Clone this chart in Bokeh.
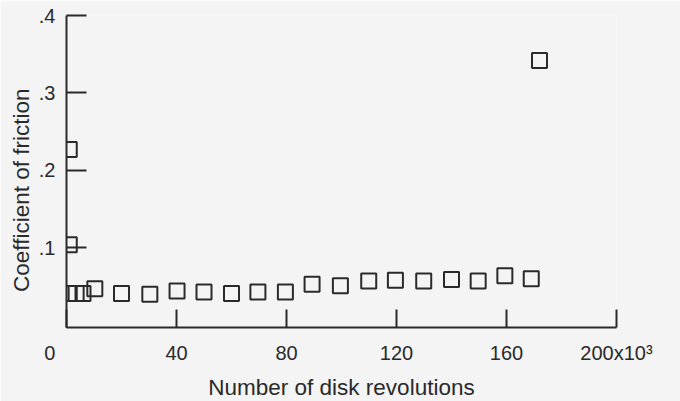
import re
from bokeh.plotting import figure
from bokeh.models import FixedTicker, Range1d
from bokeh.embed import file_html
from bokeh.resources import INLINE

# Data (x in thousands of disk revolutions)
revolutions_k = [1, 1, 1, 3.5, 6, 10.3, 20, 30.3, 40.2, 50, 60, 69.6, 79.6,
                 89.3, 99.6, 109.9, 119.6, 129.9, 140, 149.7, 159.4, 169, 172]
friction = [0.227, 0.104, 0.041, 0.041, 0.041, 0.047, 0.041, 0.040, 0.044,
            0.043, 0.041, 0.043, 0.043, 0.053, 0.051, 0.057, 0.058, 0.057,
            0.059, 0.057, 0.064, 0.060, 0.342]

x_ticks = [0, 40, 80, 120, 160, 200]
x_tick_labels = ["0", "40", "80", "120", "160", "200x10\u00b3"]
y_ticks = [0.1, 0.2, 0.3, 0.4]
y_tick_labels = [".1", ".2", ".3", ".4"]

BG = "#f4f4f4"
INK = "#2a2a2a"
FONT = "Liberation Sans"
FS = "\u2007"  # figure space, used to nudge a few labels off-centre like the original

p = figure(frame_width=550, frame_height=312,
           x_range=Range1d(0, 200), y_range=Range1d(-0.003, 0.4),
           output_backend="svg", toolbar_location=None,
           min_border_left=66, min_border_right=64,
           min_border_top=15, min_border_bottom=74,
           background_fill_color=BG, border_fill_color=BG,
           outline_line_color=None)
p.grid.visible = False

p.scatter(revolutions_k, friction, marker="square", size=15,
          fill_color=None, line_color=INK, line_width=2)

xa = p.xaxis[0]
xa.ticker = FixedTicker(ticks=x_ticks)
overrides = {t: l for t, l in zip(x_ticks, x_tick_labels)}
overrides[x_ticks[0]] = x_tick_labels[0] + FS * 3
xa.major_label_overrides = overrides
xa.axis_label = "Number of disk revolutions"

ya = p.yaxis[0]
ya.ticker = FixedTicker(ticks=y_ticks)
ya.major_label_overrides = {t: l for t, l in zip(y_ticks, y_tick_labels)}
ya.axis_label = "Coefficient of friction" + FS * 3

for ax, tick_len, standoff, lab_standoff in ((xa, 18, 14, 8), (ya, 20, 11, 2)):
    ax.major_tick_in = tick_len
    ax.major_tick_out = 0
    ax.minor_tick_in = 0
    ax.minor_tick_out = 0
    ax.axis_line_color = INK
    ax.axis_line_width = 2
    ax.major_tick_line_color = INK
    ax.major_tick_line_width = 2
    ax.major_label_text_font = FONT
    ax.major_label_text_font_size = "20px"
    ax.major_label_text_color = INK
    ax.major_label_standoff = standoff
    ax.axis_label_text_font = FONT
    ax.axis_label_text_font_size = "22.5px"
    ax.axis_label_text_font_style = "normal"
    ax.axis_label_text_color = INK
    ax.axis_label_standoff = lab_standoff

html = file_html(p, INLINE)
html = re.sub(r"<body([^>]*)>", r'<body\1 style="background:%s;">' % BG, html, count=1)
open("out.html", "w").write(html)
